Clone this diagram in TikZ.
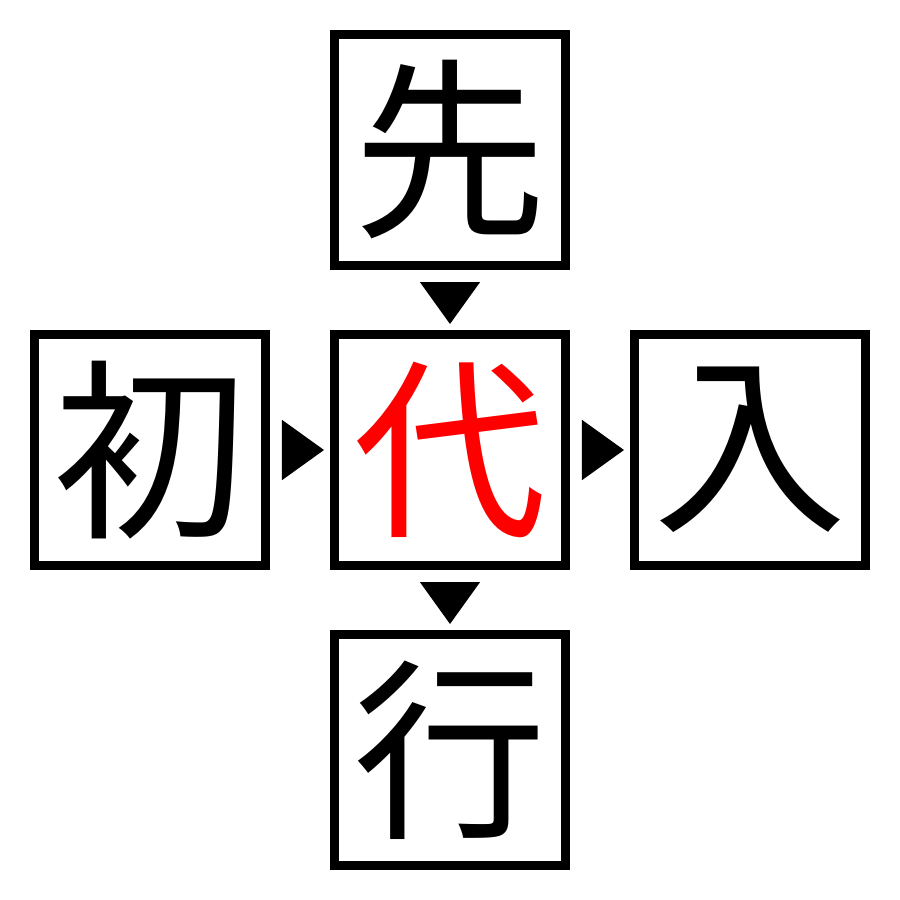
\documentclass[tikz,border=0pt]{standalone}
\usepackage{fontspec}
\newfontfamily\cjk{Noto Sans CJK JP}
\usetikzlibrary{arrows.meta}

\begin{document}
\begin{tikzpicture}[
    box/.style={draw, line width=.09cm, minimum size=2.31cm, inner sep=0pt, font=\cjk\fontsize{55}{55}\selectfont},
    tri/.style={-{Triangle[length=.42cm,width=.6cm]}, line width=.4pt, shorten <=.12cm, shorten >=.06cm}]
    \useasboundingbox (-4.5,-4.5) rectangle (4.5,4.5);
    \foreach \n/\x/\y/\c in {top/0/3/先,left/-3/0/初,right/3/0/入,bot/0/-3/行}
        \node[box] (\n) at (\x,\y) {\c};
    \node[box, text=red] (mid) at (0,0) {代};
    \foreach \a/\b in {top/mid,left/mid,mid/right,mid/bot} \draw[tri] (\a) -- (\b);
\end{tikzpicture}
\end{document}
